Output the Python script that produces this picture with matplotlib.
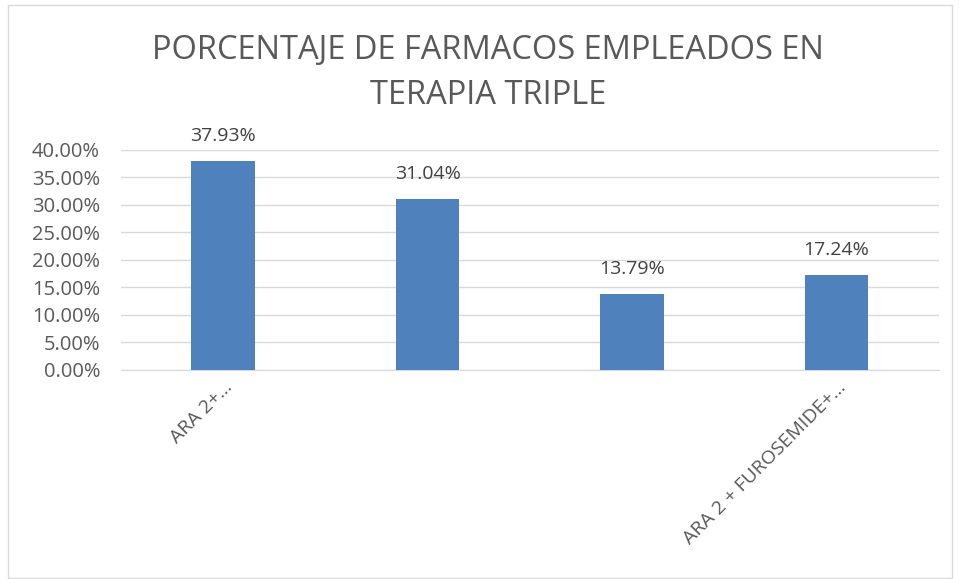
import matplotlib.pyplot as plt
from matplotlib.patches import Rectangle

categories = ['ARA 2+…', '', '', 'ARA 2 + FUROSEMIDE+…']
values = [37.93, 31.04, 13.79, 17.24]
yticks = [0, 5, 10, 15, 20, 25, 30, 35, 40]

plt.rcParams['font.family'] = ['Open Sans', 'DejaVu Sans']

fig = plt.figure(figsize=(9.59, 5.79), dpi=100)
ax = fig.add_axes([0.126, 0.361, 0.853, 0.380])

idx = range(len(categories))
bars = ax.bar(idx, values, width=0.31, color='#4f81bd', zorder=3)

for b, v in zip(bars, values):
    ax.text(b.get_x() + b.get_width() / 2, v + 3.0, '%.2f%%' % v,
            ha='center', va='bottom', fontsize=14, color='#404040')

ax.set_xlim(-0.5, len(categories) - 0.5)
ax.set_ylim(0, 40)
ax.set_yticks(yticks)
ax.set_yticklabels(['%.2f%%' % t for t in yticks], fontsize=14.5, color='#595959')
ax.set_xticks(list(idx))
ax.set_xticklabels(categories, rotation=45, ha='right', rotation_mode='anchor',
                   fontsize=14, color='#595959')
ax.tick_params(axis='y', length=0, pad=15)
ax.tick_params(axis='x', length=0, pad=6)
ax.grid(axis='y', color='#d9d9d9', linewidth=1, zorder=0)
for s in ['top', 'right', 'left']:
    ax.spines[s].set_visible(False)
ax.spines['bottom'].set_color('#d9d9d9')

fig.text(0.509, 0.912, 'PORCENTAJE DE FARMACOS EMPLEADOS EN', ha='center', va='center',
         fontsize=23.5, color='#595959')
fig.text(0.509, 0.835, 'TERAPIA TRIPLE', ha='center', va='center',
         fontsize=23.5, color='#595959')

fig.patches.append(Rectangle((0.008, 0.002), 0.985, 0.99, transform=fig.transFigure,
                             fill=False, edgecolor='#d9d9d9', linewidth=1))

fig.savefig('out.png', dpi=100)
